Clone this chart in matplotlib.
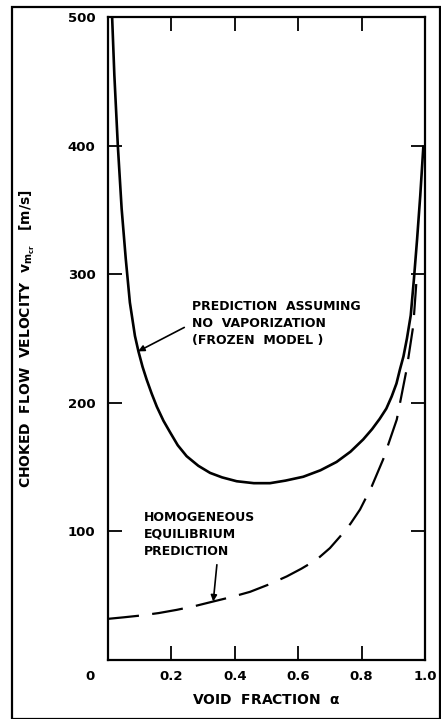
import matplotlib
matplotlib.use("Agg")
import matplotlib.pyplot as plt
import matplotlib.transforms as mtransforms
from matplotlib.patches import Rectangle

# values
frozen_alpha = [0.013, 0.020, 0.031, 0.043, 0.056, 0.069, 0.085, 0.096, 0.109, 0.122,
                0.138, 0.154, 0.175, 0.196, 0.22, 0.248, 0.285, 0.322, 0.36, 0.406,
                0.46, 0.511, 0.56, 0.616, 0.67, 0.721, 0.765, 0.805, 0.833, 0.857,
                0.878, 0.895, 0.91, 0.921, 0.932, 0.943, 0.955, 0.965, 0.975, 0.985,
                0.995]
frozen_v = [500, 455, 400, 351, 312, 278, 252, 240, 228, 218,
            207, 197, 186, 177, 167, 158.5, 151, 145.5, 142, 139,
            137.5, 137.5, 139.5, 142.5, 147.5, 154, 162, 171.5, 179.5, 187.5,
            195.5, 205, 215, 226, 236, 250, 268, 296, 327, 361,
            400]

equil_alpha = [0.0, 0.05, 0.1, 0.16, 0.217, 0.275, 0.332, 0.39, 0.448, 0.505,
               0.564, 0.61, 0.658, 0.70, 0.732, 0.765, 0.795, 0.832, 0.868, 0.911,
               0.942, 0.963, 0.974]
equil_v = [32, 33.2, 34.5, 36.5, 39, 42, 45.5, 49, 53, 58.5,
           65, 71, 78, 87, 96, 106, 117, 135, 156, 187,
           226, 260, 298]

x_ticks = [0, 0.2, 0.4, 0.6, 0.8, 1.0]
x_labels = ["0", "0.2", "0.4", "0.6", "0.8", "1.0"]
y_ticks = [100, 200, 300, 400, 500]

plt.rcParams["font.family"] = "DejaVu Sans"
plt.rcParams["font.weight"] = "bold"
plt.rcParams["axes.labelweight"] = "bold"

fig = plt.figure(figsize=(4.41, 7.19), dpi=100)
ax = fig.add_axes([108 / 441, 1 - 660 / 719, 317 / 441, 643 / 719])

ax.plot(frozen_alpha, frozen_v, color="black", lw=1.9, solid_capstyle="butt")
ax.plot(equil_alpha, equil_v, color="black", lw=1.6, dashes=(14, 6))

ax.set_xlim(0, 1.0)
ax.set_ylim(0, 500)
ax.set_xticks(x_ticks)
ax.set_xticklabels(x_labels)
ax.set_yticks(y_ticks)
ax.tick_params(direction="in", length=10, width=1.3, labelsize=9.5,
               top=True, right=True, pad=7)
ax.tick_params(axis="y", pad=9)
for s in ax.spines.values():
    s.set_linewidth(1.6)

# the "0" label sits left of the corner in the original
lab0 = ax.get_xticklabels()[0]
lab0.set_transform(lab0.get_transform() +
                   mtransforms.ScaledTranslation(-0.18, 0, fig.dpi_scale_trans))

ax.set_ylabel(r"CHOKED  FLOW  VELOCITY  $\mathbf{v_{m_{cr}}}$   [m/s]", fontsize=10)
ax.yaxis.set_label_coords(-0.224, 0.5)
ax.set_xlabel(r"VOID  FRACTION  $\mathbf{\alpha}$", fontsize=10)
ax.xaxis.set_label_coords(0.5, -0.052)

ax.annotate("PREDICTION  ASSUMING\nNO  VAPORIZATION\n(FROZEN  MODEL )",
            xy=(0.095, 240), xytext=(0.265, 280), fontsize=9,
            va="top", ha="left", linespacing=1.4,
            arrowprops=dict(arrowstyle="-|>", color="black", lw=1.2,
                            shrinkA=4, shrinkB=0, mutation_scale=9,
                            relpos=(0, 0.5)))
ax.annotate("HOMOGENEOUS\nEQUILIBRIUM\nPREDICTION",
            xy=(0.332, 45.5), xytext=(0.114, 116), fontsize=9,
            va="top", ha="left", linespacing=1.4,
            arrowprops=dict(arrowstyle="-|>", color="black", lw=1.2,
                            shrinkA=3, shrinkB=0, mutation_scale=9,
                            relpos=(0.66, 0)))

# outer frame round the figure
fig.patches.append(Rectangle((12 / 441, 0.0), 428 / 441, 1 - 7 / 719,
                             transform=fig.transFigure, fill=False,
                             edgecolor="black", lw=1.6))

fig.savefig("out.png", dpi=100)
